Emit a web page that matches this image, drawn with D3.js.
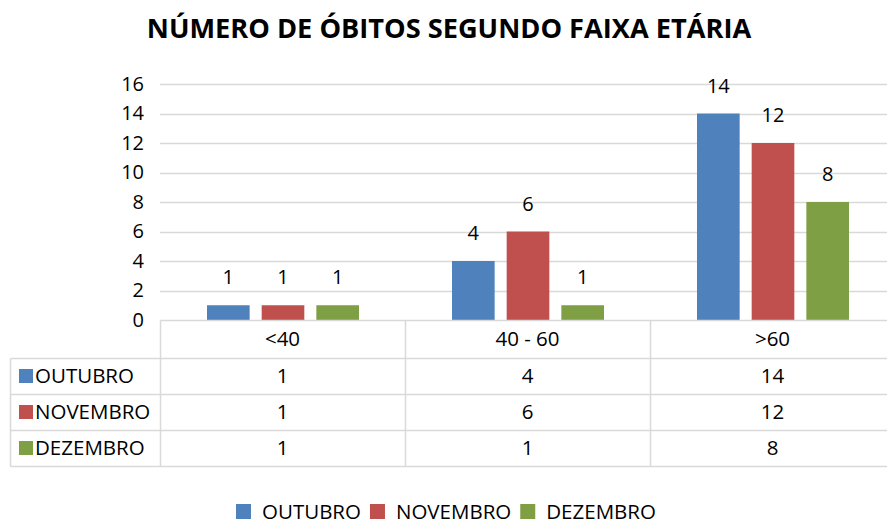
<!DOCTYPE html>
<html>
<head>
<meta charset="utf-8">
<script src="https://cdn.jsdelivr.net/npm/d3@7"></script>
<style>
  html, body { margin: 0; padding: 0; background: #fff; }
  svg { display: block; }
  text { font-family: "Open Sans", "Noto Sans", sans-serif; fill: #000; }
</style>
</head>
<body>
<svg id="chart" width="887" height="529"></svg>
<script>
const title = "NÚMERO DE ÓBITOS SEGUNDO FAIXA ETÁRIA";
const categories = ["<40", "40 - 60", ">60"];
const seriesNames = ["OUTUBRO", "NOVEMBRO", "DEZEMBRO"];
const outubro = [1, 4, 14];
const novembro = [1, 6, 12];
const dezembro = [1, 1, 8];
const colors = ["#4F81BD", "#C0504D", "#7F9F45"];
const yTicks = [0, 2, 4, 6, 8, 10, 12, 14, 16];

const seriesValues = [outubro, novembro, dezembro];
const series = seriesNames.map((name, i) => ({ name, color: colors[i], values: seriesValues[i] }));

const svg = d3.select("#chart");
const gridColor = "#d9d9d9";

const x0 = d3.scaleBand().domain(categories).range([160, 895]).padding(0);
const x1 = d3.scaleBand().domain(seriesNames).range([47, 199]).paddingInner(0.22).paddingOuter(0);
const y = d3.scaleLinear().domain([0, 16]).range([320, 84]);

// Title
svg.append("text")
  .attr("x", 449).attr("y", 38)
  .attr("text-anchor", "middle")
  .style("font-weight", "bold")
  .style("font-size", "27.2px")
  .text(title);

// Gridlines
svg.append("g").selectAll("line").data(yTicks.filter(d => d > 0)).join("line")
  .attr("x1", 160).attr("x2", 887)
  .attr("y1", d => Math.round(y(d)) + 0.5).attr("y2", d => Math.round(y(d)) + 0.5)
  .attr("stroke", gridColor).attr("stroke-width", 1.5);

// Y axis
const yAxis = d3.axisLeft(y).tickValues(yTicks).tickSize(0).tickPadding(0);
const yg = svg.append("g").attr("transform", "translate(144,0)").call(yAxis);
yg.select(".domain").remove();
yg.selectAll("text").style("font-size", "20px").style("font-family", "'Open Sans', sans-serif").attr("fill", "#000");

// Bars
const groups = svg.append("g").selectAll("g").data(categories).join("g")
  .attr("transform", d => `translate(${x0(d)},0)`);

groups.selectAll("rect")
  .data((c, ci) => series.map(s => ({ name: s.name, color: s.color, v: s.values[ci] })))
  .join("rect")
  .attr("x", d => x1(d.name))
  .attr("width", x1.bandwidth())
  .attr("y", d => y(d.v))
  .attr("height", d => y(0) - y(d.v))
  .attr("fill", d => d.color);

groups.selectAll("text.lbl")
  .data((c, ci) => series.map(s => ({ name: s.name, v: s.values[ci] })))
  .join("text")
  .attr("class", "lbl")
  .attr("x", d => x1(d.name) + x1.bandwidth() / 2)
  .attr("y", d => y(d.v) - 21)
  .attr("text-anchor", "middle")
  .style("font-size", "20px")
  .text(d => d.v);

// Data table
const rowY = [320, 358, 394, 430, 466];
const tbl = svg.append("g");
const lines = [];
lines.push({ x1: 160, x2: 887, y1: rowY[0], y2: rowY[0] });
for (let i = 1; i < rowY.length; i++) lines.push({ x1: 10, x2: 887, y1: rowY[i], y2: rowY[i] });
lines.push({ x1: 10, x2: 10, y1: rowY[1], y2: rowY[4] });
categories.forEach(c => lines.push({ x1: x0(c), x2: x0(c), y1: rowY[0], y2: rowY[4] }));
tbl.selectAll("line").data(lines).join("line")
  .attr("x1", d => Math.round(d.x1) + 0.5).attr("x2", d => Math.round(d.x2) + 0.5)
  .attr("y1", d => Math.round(d.y1) + 0.5).attr("y2", d => Math.round(d.y2) + 0.5)
  .attr("stroke", gridColor).attr("stroke-width", 1.5);

tbl.selectAll("text.hdr").data(categories).join("text")
  .attr("class", "hdr")
  .attr("x", d => x0(d) + x0.bandwidth() / 2)
  .attr("y", (rowY[0] + rowY[1]) / 2)
  .attr("dy", "0.35em")
  .attr("text-anchor", "middle")
  .style("font-size", "20.5px")
  .text(d => d);

series.forEach((s, si) => {
  const cy = (rowY[si + 1] + rowY[si + 2]) / 2;
  tbl.append("rect").attr("x", 19).attr("y", cy - 7).attr("width", 14).attr("height", 14).attr("fill", s.color);
  tbl.append("text").attr("x", 35).attr("y", cy).attr("dy", "0.35em")
    .style("font-size", "20.5px").text(s.name);
  tbl.selectAll(null).data(categories).join("text")
    .attr("x", (c) => x0(c) + x0.bandwidth() / 2)
    .attr("y", cy).attr("dy", "0.35em")
    .attr("text-anchor", "middle")
    .style("font-size", "20.5px")
    .text((c, ci) => s.values[ci]);
});

// Bottom legend
const legend = svg.append("g");
let lx = 236;
series.forEach((s, i) => {
  legend.append("rect").attr("x", lx).attr("y", 504).attr("width", 15).attr("height", 15).attr("fill", s.color);
  const t = legend.append("text").attr("x", lx + 26).attr("y", 511.5).attr("dy", "0.35em")
    .style("font-size", "20.5px").text(s.name);
  lx = lx + 26 + t.node().getComputedTextLength() + 9;
});
</script>
</body>
</html>
